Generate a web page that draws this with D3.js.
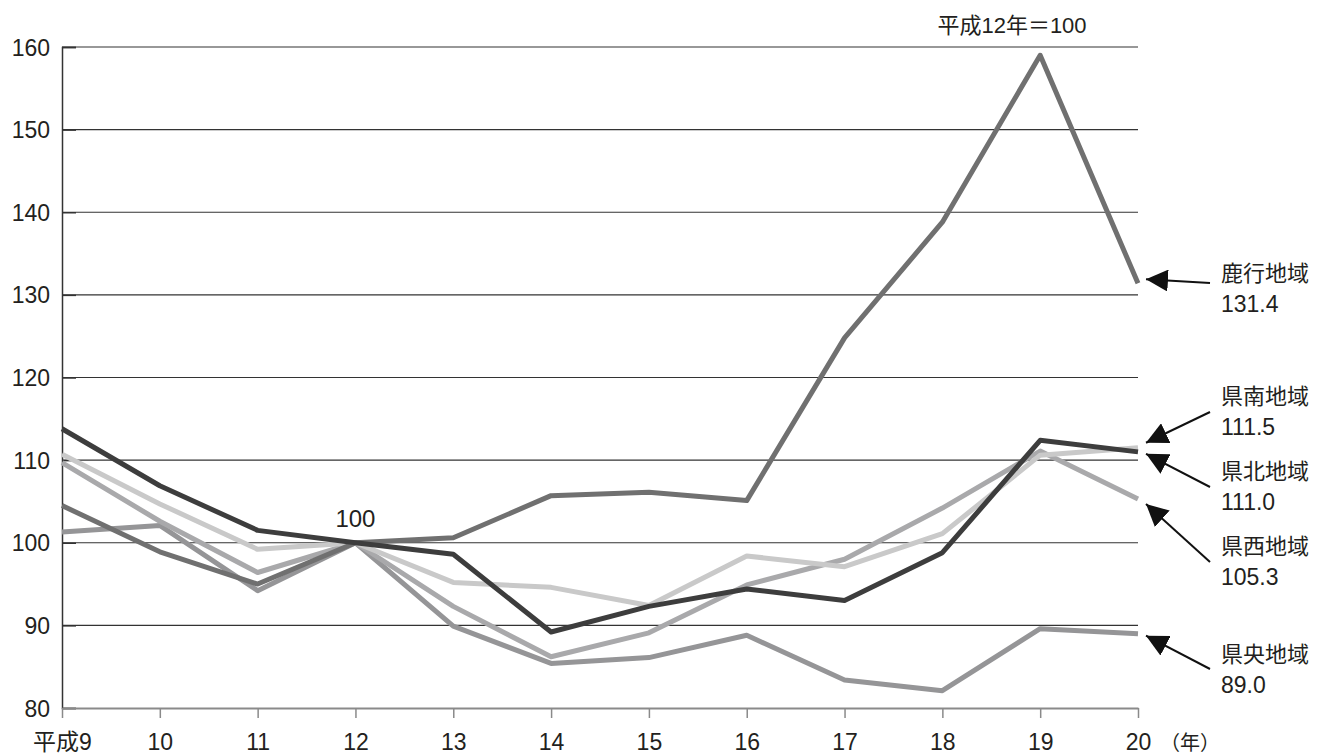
<!DOCTYPE html>
<html lang="ja">
<head>
<meta charset="UTF-8">
<title>地域別指数の推移</title>
<script src="https://cdn.jsdelivr.net/npm/d3@7"></script>
<style>
  body { margin: 0; background: #fff; }
  text { font-family: "Liberation Sans", "Noto Sans CJK JP", sans-serif; fill: #231f20; }
</style>
</head>
<body>
<svg width="1326" height="756"></svg>
<script>
// 年（平成）
var years = [9, 10, 11, 12, 13, 14, 15, 16, 17, 18, 19, 20];
var yearLabels = ["平成9", "10", "11", "12", "13", "14", "15", "16", "17", "18", "19", "20"];
var yTicks = [80, 90, 100, 110, 120, 130, 140, 150, 160];

// 各地域（平成12年=100）
var kenpoku = [113.8, 106.9, 101.5, 100, 98.6, 89.2, 92.3, 94.4, 93.0, 98.8, 112.4, 111.0];
var kennan  = [110.7, 104.7, 99.2, 100, 95.2, 94.6, 92.4, 98.4, 97.1, 101.1, 110.6, 111.5];
var kensei  = [109.7, 102.6, 96.4, 100, 92.3, 86.2, 89.1, 94.9, 98.0, 104.2, 111.1, 105.3];
var rokko   = [104.5, 98.9, 95.0, 100, 100.6, 105.7, 106.1, 105.1, 124.8, 138.8, 159.0, 131.4];
var kenou   = [101.3, 102.1, 94.2, 100, 89.9, 85.4, 86.1, 88.8, 83.4, 82.1, 89.6, 89.0];

var seriesNames = ["県央地域", "県西地域", "県南地域", "鹿行地域", "県北地域"];
var seriesValues = [kenou, kensei, kennan, rokko, kenpoku];
var seriesColors = ["#959597", "#a9a9ab", "#c9c9c9", "#707070", "#3d3d3d"];

// ラベル位置（画面上、地域名の中心）
var labelY = [654, 546, 396, 273, 471];
var tailDy = [15, 16, 16, 10, 16];
var tipDy = [2, 5, -5, -4, 2];

var svg = d3.select("svg");
var x = d3.scaleLinear().domain([9, 20]).range([62, 1138]);
var y = d3.scaleLinear().domain([80, 160]).range([708, 47]);

// 目盛線
svg.append("g").selectAll("line")
  .data(yTicks.slice(1))
  .enter().append("line")
  .attr("x1", x(9)).attr("x2", x(20))
  .attr("y1", function (d) { return y(d); })
  .attr("y2", function (d) { return y(d); })
  .attr("stroke", "#333").attr("stroke-width", 1.2);

// y軸
var yAxis = d3.axisLeft(y).tickValues(yTicks).tickSize(-14).tickPadding(26);
var gy = svg.append("g").attr("transform", "translate(" + x(9) + ",0)").call(yAxis);
gy.select(".domain").attr("stroke", "#333").attr("stroke-width", 1.5);
gy.selectAll(".tick line").attr("stroke", "#333").attr("stroke-width", 1.5);
gy.selectAll(".tick text").attr("font-size", 23).attr("x", -12).attr("dy", "0.35em")
  .style("font-family", "Liberation Sans, sans-serif");

// x軸
var xAxis = d3.axisBottom(x).tickValues(years).tickSize(10).tickSizeOuter(0)
  .tickFormat(function (d, i) { return yearLabels[i]; });
var gx = svg.append("g").attr("transform", "translate(0," + y(80) + ")").call(xAxis);
gx.select(".domain").attr("stroke", "#8a8a8a").attr("stroke-width", 2);
gx.selectAll(".tick line").attr("stroke", "#8a8a8a").attr("stroke-width", 1.5);
gx.selectAll(".tick text").attr("font-size", 23).attr("y", 26).attr("dy", "0.71em")
  .style("font-family", "Liberation Sans, Noto Sans CJK JP, sans-serif");

svg.append("text").attr("x", 1160).attr("y", 750).attr("font-size", 20)
  .style("font-family", "Noto Sans CJK JP").text("（年）");

// 折れ線
var line = d3.line()
  .x(function (d, i) { return x(years[i]); })
  .y(function (d) { return y(d); });

svg.append("g").selectAll("path")
  .data(seriesValues)
  .enter().append("path")
  .attr("d", line)
  .attr("fill", "none")
  .attr("stroke", function (d, i) { return seriesColors[i]; })
  .attr("stroke-width", 5)
  .attr("stroke-linejoin", "round");

// 注記
svg.append("text").attr("x", x(12)).attr("y", y(100) - 16).attr("text-anchor", "middle")
  .attr("font-size", 24).text("100");
svg.append("text").attr("x", 1012).attr("y", 33).attr("text-anchor", "middle")
  .attr("font-size", 22).text("平成12年＝100");

// 矢印と地域名
svg.append("defs").append("marker")
  .attr("id", "head").attr("viewBox", "0 0 10 10")
  .attr("refX", 10).attr("refY", 5)
  .attr("markerWidth", 22).attr("markerHeight", 22)
  .attr("markerUnits", "userSpaceOnUse")
  .attr("orient", "auto")
  .append("path").attr("d", "M0,0L10,5L0,10Z").attr("fill", "#111");

var last = years.length - 1;
var ann = svg.append("g").selectAll("g")
  .data(seriesValues)
  .enter().append("g");

ann.append("line")
  .attr("x1", 1210)
  .attr("y1", function (d, i) { return labelY[i] + tailDy[i]; })
  .attr("x2", x(20) + 8)
  .attr("y2", function (d, i) { return y(d[last]) + tipDy[i]; })
  .attr("stroke", "#111").attr("stroke-width", 2)
  .attr("marker-end", "url(#head)");

ann.append("text")
  .attr("x", 1221).attr("y", function (d, i) { return labelY[i] + 8; })
  .attr("font-size", 22).style("font-family", "Noto Sans CJK JP")
  .text(function (d, i) { return seriesNames[i]; });

ann.append("text")
  .attr("x", 1221).attr("y", function (d, i) { return labelY[i] + 39; })
  .attr("font-size", 23)
  .text(function (d) { return d[last].toFixed(1); });
</script>
</body>
</html>
